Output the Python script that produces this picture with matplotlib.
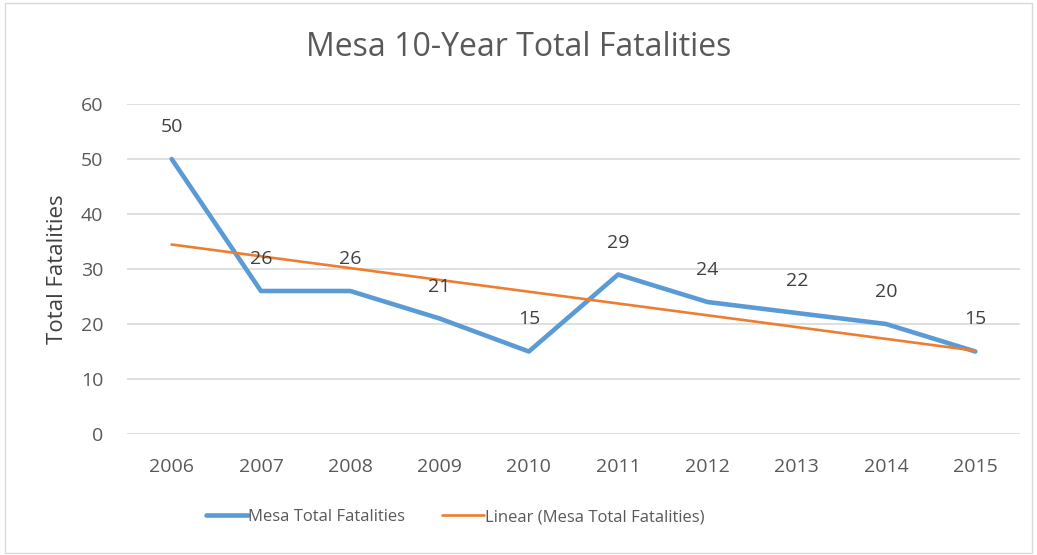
import numpy as np
import matplotlib.pyplot as plt
from matplotlib.patches import Rectangle

plt.rcParams['font.family'] = ['Open Sans', 'DejaVu Sans']

years = ['2006', '2007', '2008', '2009', '2010', '2011', '2012', '2013', '2014', '2015']
fatalities = [50, 26, 26, 21, 15, 29, 24, 22, 20, 15]

grey = '#595959'
blue = '#5B9BD5'
orange = '#ED7D31'

x = np.arange(len(years))
y = np.array(fatalities)

# linear trendline (least squares, like Excel)
m, b = np.polyfit(x, y, 1)
trend = m * x + b

fig = plt.figure(figsize=(10.37, 5.55), dpi=100)
ax = fig.add_axes([127/1037, 1 - 434/555, 893/1037, 330/555])

ax.plot(x, y, color=blue, lw=3.3, solid_capstyle='round', solid_joinstyle='round',
        label='Mesa Total Fatalities', zorder=3)
ax.plot(x, trend, color=orange, lw=1.9, solid_capstyle='round',
        label='Linear (Mesa Total Fatalities)', zorder=4)

for xi, yi in zip(x, y):
    ax.annotate(str(yi), (xi, yi), textcoords='offset pixels', xytext=(0, 32),
                ha='center', va='center', fontsize=14, color='#404040', zorder=5)

ax.set_xlim(-0.5, len(years) - 0.5)
ax.set_ylim(0, 60)
ax.set_yticks(range(0, 61, 10))
ax.set_xticks(x)
ax.set_xticklabels(years)
ax.grid(axis='y', color='#D9D9D9', lw=1.2)
ax.set_axisbelow(True)
for s in ax.spines.values():
    s.set_visible(False)
ax.tick_params(length=0, colors=grey, labelsize=14)
ax.tick_params(axis='x', pad=17)
ax.tick_params(axis='y', pad=17)
ax.set_ylabel('Total Fatalities', fontsize=16, color='#404040', labelpad=9)

fig.text(0.5, 1 - 48/555, 'Mesa 10-Year Total Fatalities', ha='center', va='center',
         fontsize=23, color=grey)

leg = ax.legend(loc='center', bbox_to_anchor=(455/1037, 1 - 517/555),
                bbox_transform=fig.transFigure, ncol=2, frameon=False,
                fontsize=12, handlelength=2.5, handletextpad=0.05, columnspacing=2.2)
for t in leg.get_texts():
    t.set_color(grey)

fig.patches.append(Rectangle((5/1037, 2/555), 1027/1037, 550/555, transform=fig.transFigure,
                             fill=False, edgecolor='#D9D9D9', lw=1))

fig.savefig('out.png', dpi=100)
